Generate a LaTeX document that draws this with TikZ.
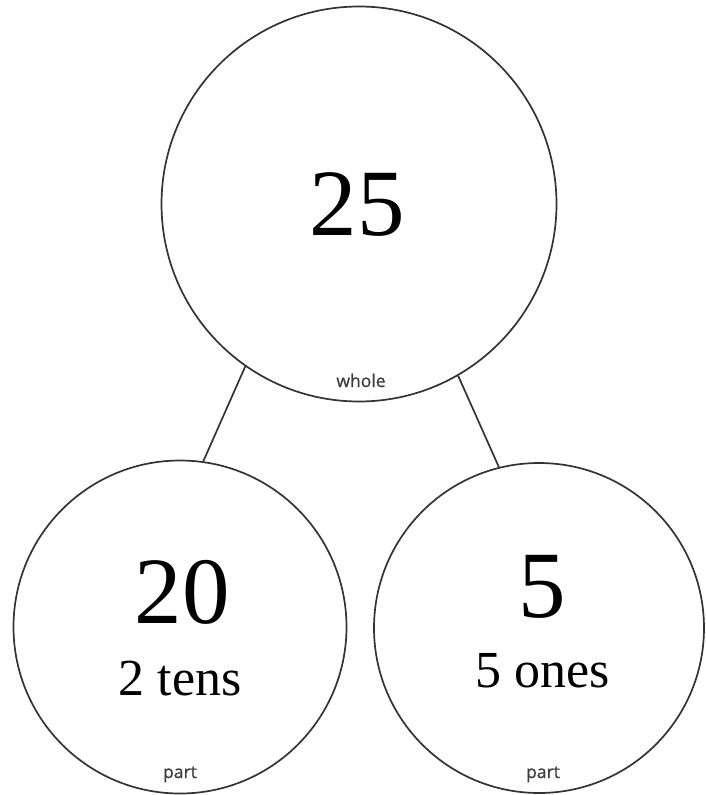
\documentclass[tikz,border=0pt]{standalone}
\usepackage{fontspec}
\setmainfont{Liberation Serif}
\newfontfamily\tagfont[FakeBold=0.8]{Open Sans}
\definecolor{rimgray}{HTML}{333333}
\definecolor{taggray}{HTML}{3C3C3C}

\begin{document}
\begin{tikzpicture}[x=1pt, y=-1pt,
    ring/.style={draw=rimgray, line width=1.7pt, circle, inner sep=0pt},
    bignum/.style={anchor=base, inner sep=0pt, font=\fontsize{95}{95}\selectfont},
    placetxt/.style={anchor=base, inner sep=0pt, font=\fontsize{52}{52}\selectfont},
    tag/.style={anchor=base, inner sep=0pt, text=taggray, font=\tagfont\fontsize{17.5}{17.5}\selectfont},
    link/.style={draw=rimgray, line width=1.7pt}
]
\useasboundingbox (0,0) rectangle (705,795);
\node[ring, minimum size=395pt] (whole) at (359,204) {};
\node[ring, minimum size=333pt] (tens) at (180,627) {};
\node[ring, minimum size=330pt] (ones) at (539,628) {};

\node[bignum] (wholeval) at (357,235) {25};
\node[tag] (wholetag) at (361,387) {whole};

\node[bignum] (tensval) at (182,623) {20};
\node[placetxt] (tensname) at (180,695) {2 tens};
\node[tag] (tenstag) at (180,778) {part};

\node[bignum] (onesval) at (542,617) {5};
\node[placetxt] (onesname) at (543,687) {5 ones};
\node[tag] (onestag) at (543,778) {part};

\draw[link] (whole.235) -- (tens.82);
\draw[link] (whole.300) -- (ones.104);
\end{tikzpicture}
\end{document}
